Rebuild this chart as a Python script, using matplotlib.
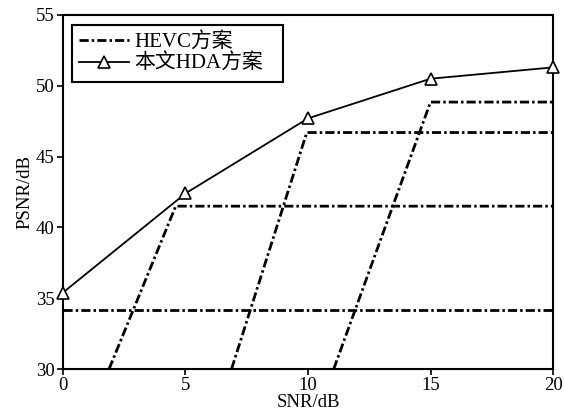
import matplotlib
matplotlib.use('Agg')
import matplotlib.pyplot as plt

# HDA scheme
snr = [0, 5, 10, 15, 20]
psnr_hda = [35.4, 42.4, 47.7, 50.5, 51.3]

# HEVC scheme: one curve per MCS level (cliff effect)
hevc_x = [
    [0, 20],
    [1.88, 4.6, 20],
    [6.88, 9.95, 20],
    [11.05, 15.0, 20],
]
hevc_y = [
    [34.2, 34.2],
    [30, 41.5, 41.5],
    [30, 46.7, 46.7],
    [30, 48.85, 48.85],
]

plt.rcParams['font.family'] = ['Liberation Serif', 'Noto Sans CJK SC']
plt.rcParams['font.size'] = 13.5

fig = plt.figure(figsize=(5.64, 4.13), dpi=100)
ax = fig.add_axes([0.1117, 0.1065, 0.8688, 0.8572])

dash = (0, (3.3, 1.1, 0.9, 1.1))
for i, (xs, ys) in enumerate(zip(hevc_x, hevc_y)):
    ax.plot(xs, ys, color='black', lw=2.0, linestyle=dash,
            label='HEVC方案' if i == 0 else None)

ax.plot(snr, psnr_hda, color='black', lw=1.3, marker='^', markersize=8,
        markerfacecolor='white', markeredgecolor='black', markeredgewidth=1.2,
        label='本文HDA方案', clip_on=False, zorder=5)

ax.set_xlim(0, 20)
ax.set_ylim(30, 55)
ax.set_xticks([0, 5, 10, 15, 20])
ax.set_yticks([30, 35, 40, 45, 50, 55])
ax.set_xlabel('SNR/dB', labelpad=0)
ax.set_ylabel('PSNR/dB', labelpad=2)
ax.tick_params(direction='out', length=4, width=1.2, pad=2)
for s in ax.spines.values():
    s.set_linewidth(1.5)

leg = ax.legend(loc='upper left', fancybox=False, edgecolor='black',
                framealpha=1, borderpad=0.35, handlelength=2.4,
                handletextpad=0.25, labelspacing=0.1, fontsize=15,
                mode='expand', borderaxespad=0,
                bbox_to_anchor=(0.018, 0.5, 0.43, 0.472))
leg.get_frame().set_linewidth(1.5)

fig.savefig('out.png', dpi=100)
